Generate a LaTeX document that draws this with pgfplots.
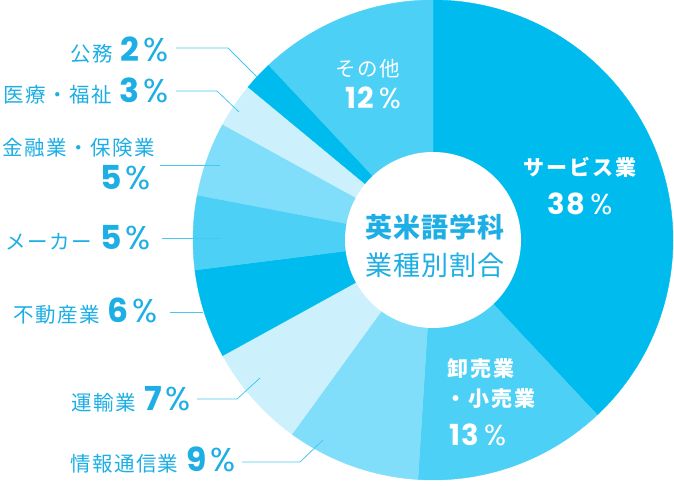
\documentclass[border=0pt]{standalone}
\usepackage{pgfplots}
\pgfplotsset{compat=1.18}
\usepackage{pgfplotstable}
\usepackage{fontspec}
\setmainfont{Noto Sans CJK JP}
\newfontfamily\numfont{Poppins}
\definecolor{cA}{RGB}{0,188,238}
\definecolor{cB}{RGB}{77,208,246}
\definecolor{cC}{RGB}{128,222,251}
\definecolor{cD}{RGB}{204,241,253}
\definecolor{labc}{RGB}{28,174,228}
\definecolor{linec}{RGB}{70,200,240}

% shares in percent, clockwise from 12 o'clock
\pgfplotstableread{
value col
38 cA
13 cB
9 cC
7 cD
6 cA
5 cB
5 cC
3 cD
2 cA
12 cB
}\sharetable

\newcommand\jp[1]{{\fontsize{20.5bp}{24bp}\selectfont\addfontfeature{LetterSpace=7}#1}}
\newcommand\jpi[1]{{\fontsize{21bp}{24bp}\selectfont\bfseries\addfontfeature{LetterSpace=10}#1}}
\newcommand\pct[1]{{\numfont\fontsize{33bp}{34bp}\selectfont\bfseries #1\hspace{4bp}\mdseries\%}}
\newcommand\pcti[1]{{\numfont\fontsize{29bp}{30bp}\selectfont\addfontfeature{LetterSpace=5}\bfseries #1\hspace{5bp}\mdseries\%}}

\begin{document}
\begin{tikzpicture}
\begin{axis}[name=ax,x=1bp,y=1bp,xmin=0,xmax=674,ymin=0,ymax=486,hide axis]
\pgfmathsetmacro\cum{0}
\pgfplotsforeachungrouped \i in {0,...,9}{%
  \pgfplotstablegetelem{\i}{value}\of\sharetable \let\curval=\pgfplotsretval
  \pgfplotstablegetelem{\i}{col}\of\sharetable \let\curcol=\pgfplotsretval
  \pgfmathsetmacro\angA{\cum*3.6}%
  \pgfmathsetmacro\angB{(\cum+\curval)*3.6}%
  \edef\doplot{\noexpand\addplot[draw=\curcol, line width=0.4pt, fill=\curcol, domain=\angA:\angB, samples=80, variable=\noexpand\t, mark=none]
    ({433+240*sin(\noexpand\t)},{246+240*cos(\noexpand\t)}) -- (axis cs:433,246) -- cycle;}%
  \doplot
  \pgfmathsetmacro\cum{\cum+\curval}%
}
\addplot[fill=white, draw=none, domain=0:360, samples=120, mark=none] ({433+88*cos(x)},{246+88*sin(x)}) -- cycle;

% leader lines
\addplot[linec, line width=0.8pt, mark=none] coordinates {(176,438) (228,438) (257,409)};
\addplot[linec, line width=0.8pt, mark=none] coordinates {(176,395) (217,395) (239,374)};
\addplot[linec, line width=0.8pt, mark=none] coordinates {(160,321) (220,321)};
\addplot[linec, line width=0.8pt, mark=none] coordinates {(162,248) (222,248)};
\addplot[linec, line width=0.8pt, mark=none] coordinates {(170,174) (203,174)};
\addplot[linec, line width=0.8pt, mark=none] coordinates {(197,87) (237,87) (260,108)};
\addplot[linec, line width=0.8pt, mark=none] coordinates {(242,24) (300,24) (323,46)};

% outer labels
\node[anchor=base east, inner sep=0, text=labc] at (axis cs:169,424) {\jp{公務}\hspace{8bp}\pct{2}};
\node[anchor=base east, inner sep=0, text=labc] at (axis cs:169,383) {\jp{医療・福祉}\hspace{8bp}\pct{3}};
\node[anchor=base east, inner sep=0, text=labc] at (axis cs:155,330) {\jp{金融業・保険業}};
\node[anchor=base east, inner sep=0, text=labc] at (axis cs:151,296) {\pct{5}};
\node[anchor=base east, inner sep=0, text=labc] at (axis cs:151,236) {\jp{メーカー}\hspace{8bp}\pct{5}};
\node[anchor=base east, inner sep=0, text=labc] at (axis cs:158,163) {\jp{不動産業}\hspace{8bp}\pct{6}};
\node[anchor=base east, inner sep=0, text=labc] at (axis cs:191,75) {\jp{運輸業}\hspace{8bp}\pct{7}};
\node[anchor=base east, inner sep=0, text=labc] at (axis cs:236,14) {\jp{情報通信業}\hspace{8bp}\pct{9}};

% inner labels
\node[anchor=base, inner sep=0, text=white] at (axis cs:368,409) {\jp{その他}};
\node[anchor=base, inner sep=0, text=white] at (axis cs:373,377) {\pcti{12}};
\node[anchor=base, inner sep=0, text=white] at (axis cs:580,310) {\jpi{サービス業}};
\node[anchor=base, inner sep=0, text=white] at (axis cs:580,271) {\pcti{38}};
\node[anchor=base west, inner sep=0, text=white] at (axis cs:447,109) {\jpi{卸売業}};
\node[anchor=base west, inner sep=0, text=white] at (axis cs:445,79) {\jpi{・小売業}};
\node[anchor=base west, inner sep=0, text=white] at (axis cs:449,40) {\pcti{13}};

% centre
\node[anchor=base, inner sep=0, text=labc] at (axis cs:435,248) {\fontsize{27bp}{30bp}\selectfont\addfontfeature{LetterSpace=4}\bfseries 英米語学科};
\node[anchor=base, inner sep=0, text=labc] at (axis cs:435,210) {\fontsize{27bp}{30bp}\selectfont\addfontfeature{LetterSpace=4}業種別割合};
\end{axis}
\pgfresetboundingbox
\path[use as bounding box] (ax.south west) rectangle (ax.north east);
\end{tikzpicture}
\end{document}
